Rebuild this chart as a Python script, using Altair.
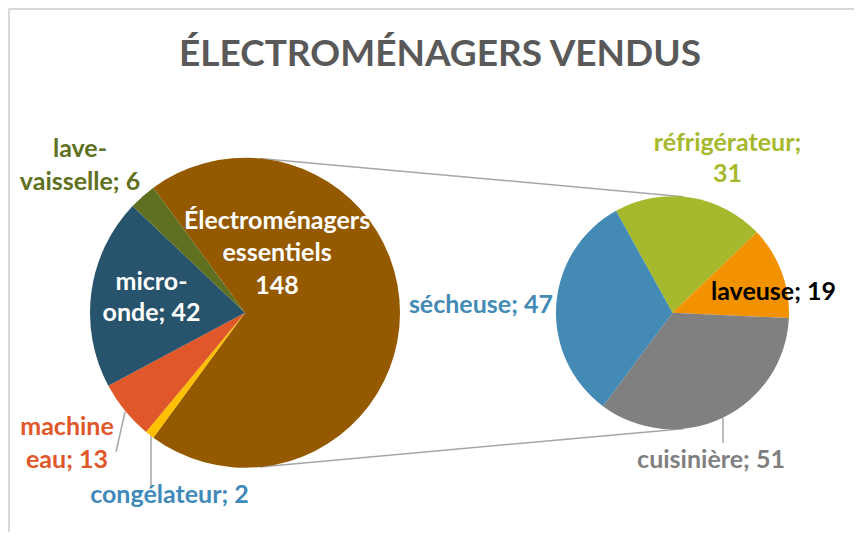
import math
import altair as alt
import pandas as pd

# ---------------- data ----------------
title_text = "ÉLECTROMÉNAGERS VENDUS"

left_cats = ["Électroménagers essentiels", "congélateur", "machine eau", "micro-onde", "lave-vaisselle"]
left_vals = [148, 2, 13, 42, 6]
left_colors = ["#955A00", "#FFC000", "#E0572A", "#27546C", "#5F7020"]

right_cats = ["réfrigérateur", "laveuse", "cuisinière", "sécheuse"]
right_vals = [31, 19, 51, 47]
right_colors = ["#A6B82B", "#F39200", "#808080", "#438AB5"]

# label lines
label_lines = [
    ["lave-", "vaisselle; 6"],
    ["Électroménagers", "essentiels", "148"],
    ["micro-", "onde; 42"],
    ["machine", "eau; 13"],
    ["congélateur; 2"],
    ["réfrigérateur;", "31"],
    ["laveuse; 19"],
    ["sécheuse; 47"],
    ["cuisinière; 51"],
]
label_colors = ["#5F7020", "#FFFFFF", "#FFFFFF", "#E0572A", "#3F8AB9",
                "#A6B82B", "#000000", "#438AB5", "#808080"]

# ---------------- layout (page pixels) ----------------
W, H = 846, 524
X0, Y0 = 8, 8
L_CX, L_CY, L_R = 245, 312.7, 155
R_CX, R_CY, R_R = 672.5, 312.7, 116.5
R_START_DEG = -29.0

label_pos = [  # (x, first baseline, line step, align)
    (80, 156.5, 33, "center"),
    (277, 228.5, 32.5, "center"),
    (151.5, 290, 30.5, "center"),
    (67, 435, 32.5, "center"),
    (169.5, 503, 0, "center"),
    (727.5, 150.5, 31, "center"),
    (773.5, 300, 0, "center"),
    (553, 312.5, 0, "right"),
    (711, 468, 0, "center"),
]
leaders = [((125, 412), (116, 452)), ((151, 435), (151, 487)), ((723, 418), (723, 443))]

xs = alt.Scale(domain=[X0, X0 + W], nice=False, zero=False)
ys = alt.Scale(domain=[Y0, Y0 + H], nice=False, zero=False, reverse=True)
FONT = "Lato"

def pie(cats, vals, colors, cx, cy, r, start):
    total = sum(vals)
    df = pd.DataFrame({"cat": cats, "value": vals, "color": colors,
                       "ord": list(range(len(cats))), "cx": cx, "cy": cy})
    return alt.Chart(df).mark_arc(radius=r).encode(
        x=alt.X("cx:Q", scale=xs, axis=None),
        y=alt.Y("cy:Q", scale=ys, axis=None),
        theta=alt.Theta("value:Q", stack=True,
                        scale=alt.Scale(domain=[0, total], range=[start, start + 2 * math.pi], nice=False)),
        order=alt.Order("ord:Q"),
        color=alt.Color("color:N", scale=None),
    )

l_total = sum(left_vals)
l_start = math.pi / 2 - left_vals[0] / l_total * math.pi
left_pie = pie(left_cats, left_vals, left_colors, L_CX, L_CY, L_R, l_start)
right_pie = pie(right_cats, right_vals, right_colors, R_CX, R_CY, R_R, math.radians(R_START_DEG))

# connector lines between the two pies (from pie geometry)
a = math.radians(5.5)
conn_rows = []
for sgn in (1, -1):
    conn_rows.append({
        "x": L_CX + L_R * math.sin(a), "y": L_CY - sgn * L_R * math.cos(a),
        "x2": R_CX + R_R * math.sin(a), "y2": R_CY - sgn * R_R * math.cos(a)})
for (p, q) in leaders:
    conn_rows.append({"x": p[0], "y": p[1], "x2": q[0], "y2": q[1]})
conn = alt.Chart(pd.DataFrame(conn_rows)).mark_rule(color="#A6A6A6", strokeWidth=1.5).encode(
    x=alt.X("x:Q", scale=xs, axis=None), y=alt.Y("y:Q", scale=ys, axis=None),
    x2="x2:Q", y2="y2:Q")

# border (top and left)
border = alt.Chart(pd.DataFrame({"x": [X0 + 1, X0 + 1], "y": [Y0 + 1, Y0 + 1],
                                 "x2": [X0 + W, X0 + 1], "y2": [Y0 + 1, Y0 + H]})).mark_rule(
    color="#D9D9D9", strokeWidth=2).encode(
    x=alt.X("x:Q", scale=xs, axis=None), y=alt.Y("y:Q", scale=ys, axis=None),
    x2="x2:Q", y2="y2:Q")

rows = []
for lines, col, (x, y, step, al) in zip(label_lines, label_colors, label_pos):
    for i, t in enumerate(lines):
        rows.append({"t": t, "x": x, "y": y + i * step, "c": col, "al": al})
ldf = pd.DataFrame(rows)

def text_layer(df, align):
    return alt.Chart(df).mark_text(font=FONT, fontSize=25, fontWeight="bold",
                                   align=align, baseline="alphabetic").encode(
        x=alt.X("x:Q", scale=xs, axis=None), y=alt.Y("y:Q", scale=ys, axis=None),
        text="t:N", color=alt.Color("c:N", scale=None))

labels_c = text_layer(ldf[ldf.al == "center"], "center")
labels_r = text_layer(ldf[ldf.al == "right"], "right")

title = alt.Chart(pd.DataFrame({"t": [title_text], "x": [440], "y": [65.5]})).mark_text(
    font=FONT, fontSize=37, fontWeight="bold", color="#595959", align="center", baseline="alphabetic").encode(
    x=alt.X("x:Q", scale=xs, axis=None), y=alt.Y("y:Q", scale=ys, axis=None), text="t:N")

chart = alt.layer(border, conn, left_pie, right_pie, labels_c, labels_r, title).resolve_scale(
    theta="independent").properties(
    width=W, height=H, padding=0, autosize=alt.AutoSizeParams(type="none")
).configure_view(stroke=None).configure(background="white")

chart.save("out.html", embed_options={"renderer": "svg", "actions": False})
